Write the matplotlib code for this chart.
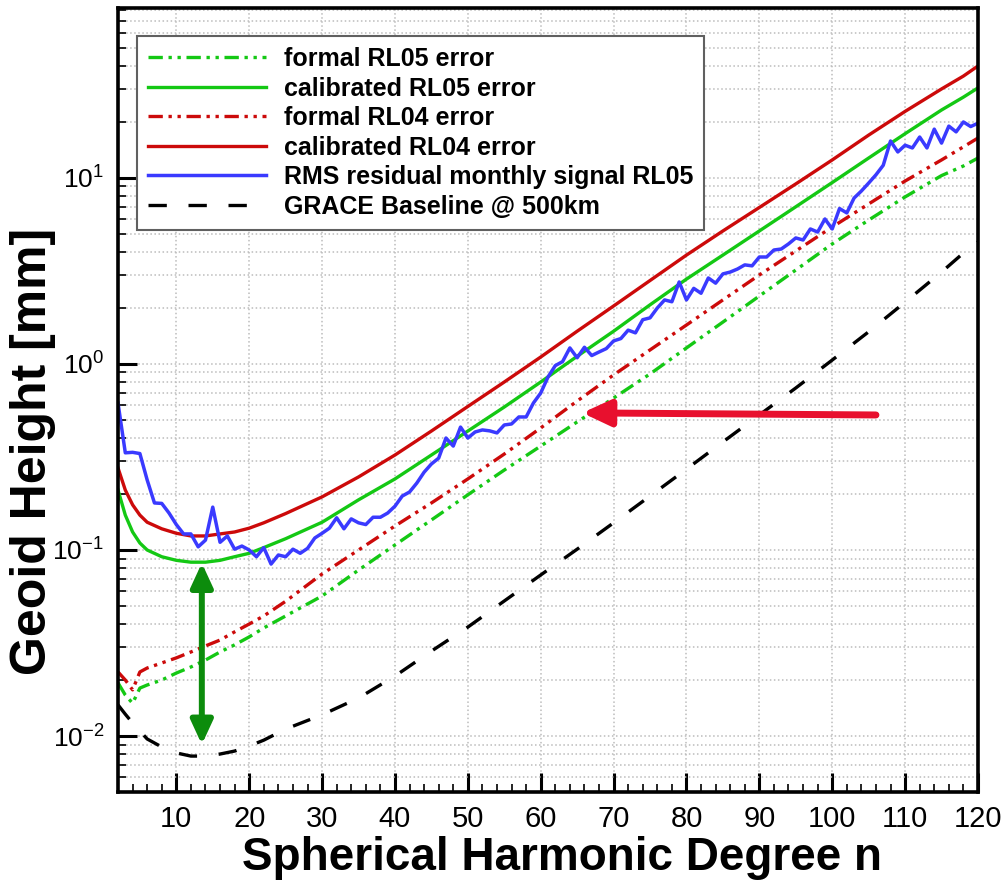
import matplotlib
matplotlib.use("Agg")
import matplotlib.pyplot as plt
from matplotlib.ticker import FixedLocator, MultipleLocator, LogLocator, NullFormatter, FixedFormatter

plt.rcParams['font.family'] = ['Liberation Sans', 'DejaVu Sans']
plt.rcParams['mathtext.fontset'] = 'custom'
plt.rcParams['mathtext.rm'] = 'Liberation Sans'
plt.rcParams['mathtext.it'] = 'Liberation Sans:italic'
plt.rcParams['mathtext.bf'] = 'Liberation Sans:bold'

# degrees where the smooth model curves were read
deg = [2, 3, 4, 5, 6, 8, 10, 12, 14, 16, 18, 20, 22, 25, 30, 35, 40, 45, 50, 55,
       60, 65, 70, 75, 80, 85, 90, 95, 100, 105, 110, 115, 118, 120]

cal_rl04 = [0.276, 0.210, 0.175, 0.154, 0.141, 0.130, 0.123, 0.119, 0.119, 0.122,
            0.125, 0.131, 0.140, 0.157, 0.193, 0.247, 0.324, 0.436, 0.591, 0.800,
            1.09, 1.50, 2.05, 2.81, 3.85, 5.19, 6.94, 9.29, 12.5, 17.0,
            22.8, 30.1, 35.3, 40.0]
cal_rl05 = [0.210, 0.154, 0.125, 0.109, 0.100, 0.092, 0.088, 0.086, 0.086, 0.088,
            0.092, 0.096, 0.103, 0.115, 0.141, 0.186, 0.241, 0.324, 0.436, 0.587,
            0.800, 1.10, 1.50, 2.08, 2.86, 3.85, 5.19, 7.00, 9.45, 12.8,
            17.3, 23.2, 27.2, 30.5]
formal_rl04 = [0.0221, 0.0200, 0.0177, 0.0221, 0.0232, 0.0247, 0.0263, 0.0283, 0.0305, 0.0328,
               0.0363, 0.0400, 0.0442, 0.0530, 0.0743, 0.100, 0.1346, 0.179, 0.241, 0.328,
               0.453, 0.632, 0.873, 1.19, 1.62, 2.21, 3.01, 4.05, 5.45, 7.25,
               9.63, 12.5, 14.7, 16.4]
formal_rl05 = [0.0193, 0.0166, 0.0150, 0.0181, 0.0188, 0.0200, 0.0218, 0.0235, 0.0256, 0.0283,
               0.0309, 0.0341, 0.0381, 0.0442, 0.0566, 0.078, 0.1064, 0.145, 0.198, 0.269,
               0.362, 0.488, 0.656, 0.884, 1.22, 1.68, 2.32, 3.20, 4.42, 5.94,
               7.91, 10.3, 11.6, 12.8]
baseline = [0.0147, 0.0131, 0.01175, 0.01064, 0.00964, 0.00873, 0.00811, 0.0078, 0.0078, 0.0080,
            0.0083, 0.00883, 0.0095, 0.0109, 0.0130, 0.0160, 0.0210, 0.0286, 0.0385, 0.0532,
            0.0734, 0.101, 0.140, 0.195, 0.272, 0.381, 0.532, 0.743, 1.05, 1.49,
            2.15, 3.12, 3.95, 4.53]

# RMS residual monthly signal, one value per degree 2..120
rms_deg = list(range(2, 121))
rms_rl05 = [0.616, 0.333, 0.335, 0.330, 0.238, 0.179, 0.178, 0.158, 0.137, 0.122,
            0.122, 0.104, 0.113, 0.170, 0.110, 0.119, 0.101, 0.105, 0.100, 0.092,
            0.103, 0.084, 0.094, 0.092, 0.101, 0.096, 0.102, 0.116, 0.123, 0.131,
            0.149, 0.130, 0.147, 0.140, 0.137, 0.150, 0.150, 0.158, 0.172, 0.195,
            0.205, 0.229, 0.262, 0.290, 0.312, 0.400, 0.362, 0.458, 0.400, 0.431,
            0.442, 0.437, 0.426, 0.470, 0.476, 0.519, 0.519, 0.617, 0.698, 0.851,
            0.980, 1.03, 1.22, 1.08, 1.23, 1.11, 1.16, 1.21, 1.33, 1.37,
            1.52, 1.47, 1.73, 1.77, 2.00, 2.21, 2.16, 2.76, 2.21, 2.55,
            2.40, 2.90, 2.72, 3.05, 3.12, 3.24, 3.41, 3.37, 3.76, 3.76,
            4.10, 4.15, 4.42, 4.76, 4.64, 5.32, 5.12, 6.02, 5.32, 6.85,
            6.49, 7.80, 8.51, 9.39, 10.4, 11.7, 15.8, 13.8, 15.0, 14.5,
            16.6, 14.5, 18.3, 15.4, 19.0, 17.7, 20.0, 18.9, 19.7]

labels = ['formal RL05 error', 'calibrated RL05 error', 'formal RL04 error',
          'calibrated RL04 error', 'RMS residual monthly signal RL05',
          'GRACE Baseline @ 500km']

x_ticks = [10, 20, 30, 40, 50, 60, 70, 80, 90, 100, 110, 120]
y_ticks = [0.01, 0.1, 1, 10]
y_tick_labels = ['$10^{-2}$', '$10^{-1}$', '$10^{0}$', '$10^{1}$']

# annotation arrows (degree, geoid height)
green_arrow = [(13.5, 0.0851), (13.5, 0.0090)]
red_arrow = [(106, 0.532), (65.7, 0.546)]

green = '#14c814'
red = '#cc0a0a'
blue = '#3a3aff'
ddot = (4.3, 1.7, 1, 1.7, 1, 1.7)

fig = plt.figure(figsize=(10.01, 8.88), dpi=100)
ax = fig.add_axes([0.1179, 0.1081, 0.8591, 0.8829])

h_base, = ax.plot(deg, baseline, color='black', lw=2.4, dashes=(5.5, 6.5))
h_f05, = ax.plot(deg, formal_rl05, color=green, lw=2.4, dashes=ddot)
h_f04, = ax.plot(deg, formal_rl04, color=red, lw=2.4, dashes=ddot)
h_c05, = ax.plot(deg, cal_rl05, color=green, lw=2.4)
h_c04, = ax.plot(deg, cal_rl04, color=red, lw=2.4)
h_rms, = ax.plot(rms_deg, rms_rl05, color=blue, lw=2.5)

ax.set_yscale('log')
ax.set_xlim(2, 120)
ax.set_ylim(0.005, 82)

ax.xaxis.set_major_locator(FixedLocator(x_ticks))
ax.xaxis.set_minor_locator(MultipleLocator(2))
ax.yaxis.set_major_locator(FixedLocator(y_ticks))
ax.yaxis.set_major_formatter(FixedFormatter(y_tick_labels))
ax.yaxis.set_minor_locator(LogLocator(base=10, subs=range(2, 10), numticks=20))
ax.yaxis.set_minor_formatter(NullFormatter())

ax.grid(True, which='major', axis='x', ls=':', color='#bcbcbc', lw=1.1)
ax.grid(True, which='both', axis='y', ls=':', color='#bcbcbc', lw=1.1)
ax.set_axisbelow(True)

ax.tick_params(which='major', direction='in', length=14, width=2.2, top=False, right=False)
ax.tick_params(which='minor', direction='in', length=6, width=1.2, top=False, right=False)
ax.tick_params(axis='x', which='major', pad=9, labelsize=21)
ax.tick_params(axis='y', which='major', pad=10, labelsize=19)
for sp in ax.spines.values():
    sp.set_linewidth(2.6)

ax.annotate('', xy=green_arrow[1], xytext=green_arrow[0],
            arrowprops=dict(arrowstyle='<|-|>,head_length=1.3,head_width=0.6',
                            mutation_scale=11, lw=4.3, color='#0c8c0c',
                            shrinkA=0, shrinkB=0))
ax.annotate('', xy=red_arrow[1], xytext=red_arrow[0],
            arrowprops=dict(arrowstyle='-|>,head_length=1.4,head_width=0.65',
                            mutation_scale=12, lw=5, color='#e8102e',
                            shrinkA=0, shrinkB=0))

leg = ax.legend([h_f05, h_c05, h_f04, h_c04, h_rms, h_base], labels,
                loc='upper left', bbox_to_anchor=(0.1369, 0.9595),
                bbox_transform=fig.transFigure,
                prop=dict(family='Liberation Sans', weight='bold', size=18),
                handlelength=4.7, handletextpad=0.72, labelspacing=0.22,
                borderpad=0.45, borderaxespad=0, fancybox=False,
                edgecolor='#606060', framealpha=1)
leg.get_frame().set_linewidth(1.5)

fig.text(562 / 1001, 1 - 858 / 888, 'Spherical Harmonic Degree n',
         ha='center', va='center', fontsize=33, fontweight='bold')
fig.text(33 / 1001, 1 - 451 / 888, 'Geoid Height [mm]', rotation=90,
         ha='center', va='center', fontsize=36, fontweight='bold')

fig.savefig('out.png', dpi=100)
